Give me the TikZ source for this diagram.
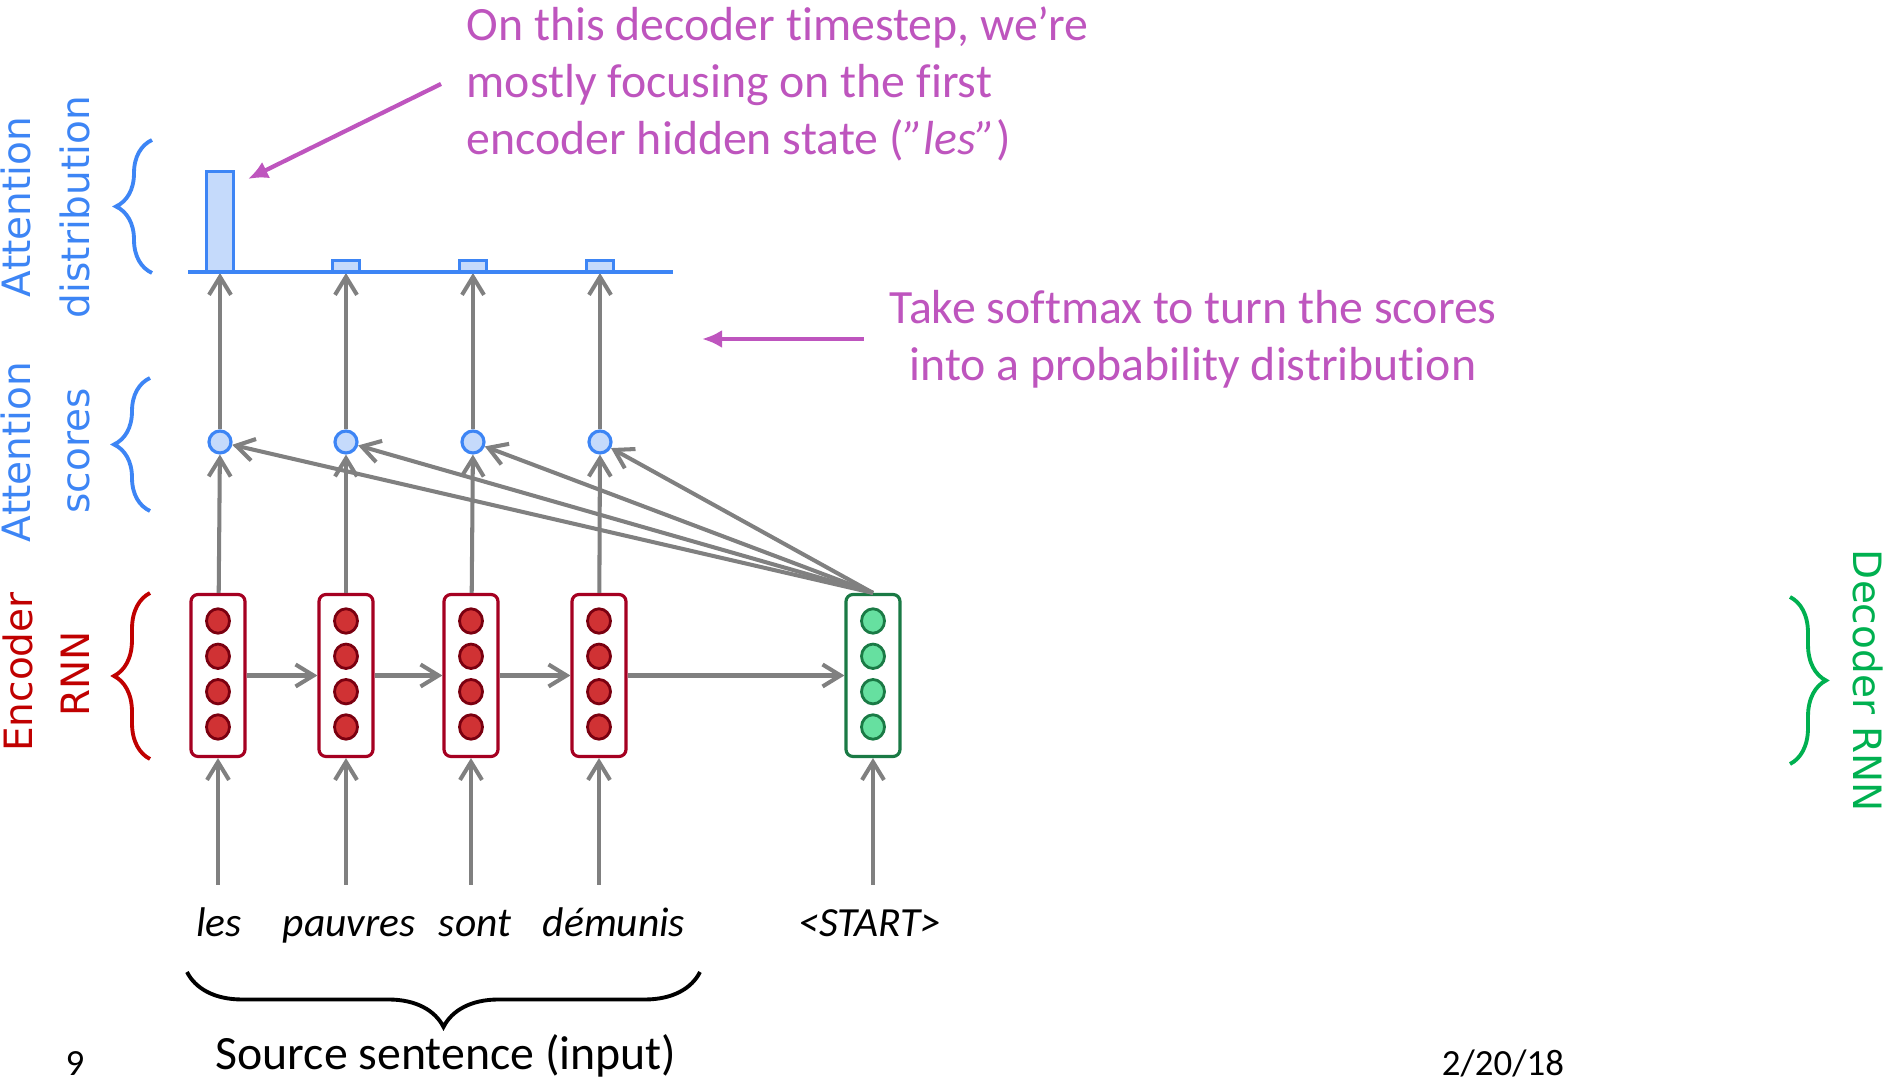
\documentclass[tikz,border=0pt]{standalone}
\usepackage{fontspec}
\setmainfont{Carlito}[Ligatures=NoCommon]
\newfontfamily\labelfont{DejaVu Sans}
\usetikzlibrary{arrows.meta,decorations.pathreplacing}

\definecolor{attblue}{RGB}{61,133,245}
\definecolor{attfill}{RGB}{197,218,251}
\definecolor{encred}{RGB}{165,0,33}
\definecolor{encdot}{RGB}{208,50,52}
\definecolor{encdotline}{RGB}{122,0,16}
\definecolor{decgreen}{RGB}{26,122,69}
\definecolor{decdot}{RGB}{102,224,160}
\definecolor{lblred}{RGB}{192,0,0}
\definecolor{lblgreen}{RGB}{0,176,80}
\definecolor{notepink}{RGB}{190,85,190}
\definecolor{arrgray}{RGB}{128,128,128}

\tikzset{
	arr/.style={-{Straight Barb[length=0.18cm,width=0.22cm]}, arrgray, line width=1.15pt},
	notearr/.style={-{Latex[length=0.2cm,width=0.18cm]}, notepink, line width=1.2pt},
	encbox/.style={draw=encred, fill=white, line width=0.9pt, rounded corners=0.07cm, minimum width=0.54cm, minimum height=1.62cm, inner sep=0pt},
	decbox/.style={encbox, draw=decgreen},
	score/.style={circle, draw=attblue, fill=attfill, line width=0.9pt, minimum size=0.22cm, inner sep=0pt},
	bar/.style={draw=attblue, fill=attfill, line width=0.9pt, minimum width=0.27cm, inner sep=0pt, anchor=south},
	side/.style={font=\labelfont\fontsize{11.1}{13}\selectfont, anchor=base},
	note/.style={font=\fontsize{13.6}{16.2}\selectfont, text=notepink, inner sep=0.25cm},
	word/.style={font=\fontsize{11.8}{14}\selectfont\itshape, anchor=base},
	sidebrace/.style={decorate, decoration={brace, amplitude=0.36cm}, line width=1.1pt},
}

\begin{document}
\begin{tikzpicture}[yscale=-1]
	\useasboundingbox (0,0) rectangle (18.93,10.81);
	% encoder states, scores and attention bars
	\foreach \x/\s/\h [count=\i] in {2.18/2.20/1.00, 3.46/3.46/0.11, 4.71/4.73/0.11, 5.99/6.00/0.11} {
		\node[encbox] (e\i) at (\x,6.755) {};
		\foreach \dy in {-0.53,-0.177,0.177,0.53}
			\filldraw[fill=encdot, draw=encdotline, line width=0.8pt] (\x,{6.74+\dy}) ellipse (0.115 and 0.122);
		\coordinate (in\i) at (\x,8.85);
		\draw[arr] (in\i) -- (e\i);
		\node[score] (s\i) at (\s,4.42) {};
		\draw[arr] (e\i) -- (s\i);
		\node[bar, minimum height=\h cm] (b\i) at (\s,2.73) {};
		\draw[arr] (s\i) -- (b\i.south);
	}
	\draw[attblue, line width=1.2pt] (1.88,2.72) -- (6.73,2.72);
	% decoder state
	\node[decbox] (d) at (8.73,6.755) {};
	\foreach \dy in {-0.53,-0.177,0.177,0.53}
		\filldraw[fill=decdot, draw=decgreen, line width=0.8pt] (8.73,{6.74+\dy}) ellipse (0.115 and 0.122);
	\coordinate (in5) at (8.73,8.85);
	\draw[arr] (in5) -- (d);
	\draw[arr] (e1) -- (e2);
	\draw[arr] (e2) -- (e3);
	\draw[arr] (e3) -- (e4);
	\draw[arr] (e4) -- (d);
	\foreach \i in {1,...,4}
		\draw[arr] (d.north) -- (s\i);

	% words
	\node[word] (w1) at (2.19,9.37) {les};
	\node[word] (w2) at (3.49,9.37) {pauvres};
	\node[word] (w3) at (4.75,9.37) {sont};
	\node[word] (w4) at (6.14,9.37) {démunis};
	\node[word] (w5) at (8.70,9.37) {<START>};
	\draw[decorate, decoration={brace, amplitude=0.55cm}, line width=1.1pt] (7.00,9.72) -- (1.87,9.72);
	\node[anchor=base, font=\fontsize{13.6}{16}\selectfont] (src) at (4.46,10.70) {Source sentence (input)};
	\node[anchor=base, font=\fontsize{10.5}{12}\selectfont] (pg) at (0.75,10.76) {9};
	\node[anchor=base, font=\fontsize{10.5}{12}\selectfont] (date) at (15.03,10.76) {2/20/18};

	% side labels
	\draw[sidebrace, attblue] (1.52,2.73) -- (1.52,1.40);
	\draw[sidebrace, attblue] (1.50,5.11) -- (1.50,3.78);
	\draw[sidebrace, lblred] (1.50,7.59) -- (1.50,5.93);
	\draw[sidebrace, lblgreen] (17.90,5.97) -- (17.90,7.64);
	\node[side, rotate=90, text=attblue] (ad1) at (0.31,2.07) {Attention};
	\node[side, rotate=90, text=attblue] (ad2) at (0.89,2.07) {distribution};
	\node[side, rotate=90, text=attblue] (as1) at (0.31,4.52) {Attention};
	\node[side, rotate=90, text=attblue] (as2) at (0.89,4.51) {scores};
	\node[side, rotate=90, text=lblred] (er1) at (0.32,6.72) {Encoder};
	\node[side, rotate=90, text=lblred] (er2) at (0.89,6.74) {RNN};
	\node[side, rotate=-90, text=lblgreen] (dr) at (18.53,6.81) {Decoder RNN};

	% notes
	\node[note, anchor=west, align=left] (n1) at (4.41,0.84) {On this decoder timestep, we’re\\mostly focusing on the first\\encoder hidden state (\textit{”les”})};
	\coordinate (n1tip) at (2.48,1.79);
	\draw[notearr] (n1.west) -- (n1tip);
	\node[note, align=center] (n2) at (11.93,3.39) {Take softmax to turn the scores\\into a probability distribution};
	\coordinate (n2tip) at (7.02,3.39);
	\draw[notearr] (n2.west) -- (n2tip);
\end{tikzpicture}
\end{document}
